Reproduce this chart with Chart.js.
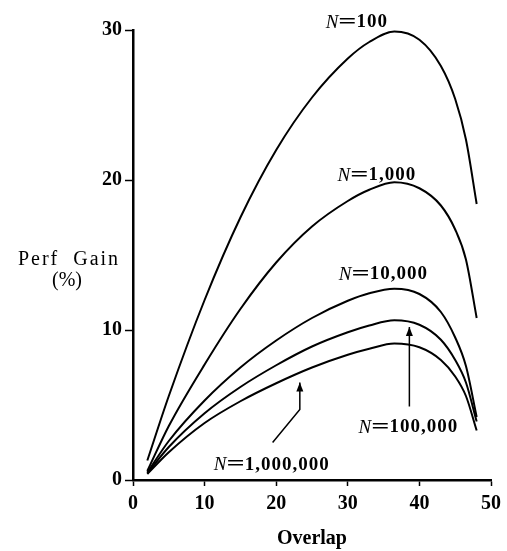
<!DOCTYPE html>
<html>
<head>
<meta charset="utf-8">
<script src="https://cdn.jsdelivr.net/npm/chart.js@4.4.0/dist/chart.umd.min.js"></script>
<style>
  html, body { margin: 0; padding: 0; background: #fff; }
  #wrap { width: 507px; height: 551px; position: relative; }
</style>
</head>
<body>
<div id="wrap"><canvas id="c" width="507" height="551"></canvas></div>
<script>
// ---- data ----
const overlap = [2, 5, 10, 15, 20, 25, 30, 33, 36.5, 40, 43, 45, 46.5, 48];
const gainN100     = [1.3, 5.6, 12.0, 17.5, 22.0, 25.5, 28.1, 29.2, 29.9, 29.35, 27.6, 25.4, 22.7, 18.4];
const gainN1000    = [0.6, 3.6, 7.7, 11.4, 14.5, 16.9, 18.6, 19.35, 19.85, 19.45, 18.3, 16.7, 14.7, 10.8];
const gainN10000   = [0.5, 2.6, 5.3, 7.5, 9.3, 10.8, 11.95, 12.45, 12.75, 12.4, 11.2, 9.5, 7.6, 4.2];
const gainN100000  = [0.45, 2.2, 4.45, 6.2, 7.65, 8.9, 9.85, 10.3, 10.65, 10.35, 9.35, 8.0, 6.5, 3.9];
const gainN1000000 = [0.4, 1.85, 3.8, 5.25, 6.45, 7.5, 8.35, 8.75, 9.1, 8.85, 8.0, 6.9, 5.6, 3.3];
const seriesNames = ["N=100", "N=1,000", "N=10,000", "N=100,000", "N=1,000,000"];
const xTicks = [0, 10, 20, 30, 40, 50];
const yTicks = [0, 10, 20, 30];

// curve labels: number part, and centre in data units
const labelNums = ["100", "1,000", "10,000", "100,000", "1,000,000"];
const labelX = [31.2, 34.0, 34.9, 38.4, 19.3];
const labelY = [30.5, 20.3, 13.7, 3.5, 1.0];
// arrows (data units): polylines ending with arrowhead
const arrow100000 = [[38.6, 4.9], [38.6, 10.2]];
const arrow1000000 = [[19.5, 2.5], [23.3, 4.7], [23.3, 6.5]];

const allGains = [gainN100, gainN1000, gainN10000, gainN100000, gainN1000000];
const datasets = allGains.map((g, i) => ({
  label: seriesNames[i],
  data: overlap.map((x, j) => ({ x: x, y: g[j] })),
  borderColor: '#000',
  borderWidth: 2,
  pointRadius: 0,
  fill: false,
  cubicInterpolationMode: 'monotone'
}));

const SERIF = '"Liberation Serif", "DejaVu Serif", serif';

const annot = {
  id: 'annot',
  afterDatasetsDraw(chart) {
    const ctx = chart.ctx, xs = chart.scales.x, ys = chart.scales.y;
    ctx.save();
    ctx.fillStyle = '#000';
    ctx.textBaseline = 'middle';
    // curve labels
    labelNums.forEach((num, i) => {
      const cx = xs.getPixelForValue(labelX[i]);
      const cy = ys.getPixelForValue(labelY[i]);
      const fN = 'italic 19px ' + SERIF;
      const fEq = 'bold 20px ' + SERIF;
      const fNum = 'bold 19px ' + SERIF;
      ctx.font = fN; const wN = ctx.measureText('N').width;
      ctx.font = fEq; const wEq = ctx.measureText('=').width * 1.6;
      ctx.font = fNum; const wNum = ctx.measureText(num).width + (num.length - 1) * 1;
      const total = wN + wEq + wNum;
      let x0 = cx - total / 2;
      ctx.textAlign = 'left';
      ctx.font = fN; ctx.fillText('N', x0, cy);
      x0 += wN;
      ctx.save();
      ctx.font = fEq;
      ctx.translate(x0, cy);
      ctx.scale(1.6, 1);
      ctx.fillText('=', 0, 0);
      ctx.restore();
      x0 += wEq;
      ctx.font = fNum;
      ctx.letterSpacing = '1px';
      ctx.fillText(num, x0, cy);
      ctx.letterSpacing = '0px';
    });
    // arrows
    ctx.strokeStyle = '#000';
    ctx.lineWidth = 1.5;
    [arrow100000, arrow1000000].forEach(pts => {
      const p = pts.map(q => [xs.getPixelForValue(q[0]), ys.getPixelForValue(q[1])]);
      ctx.beginPath();
      ctx.moveTo(p[0][0], p[0][1]);
      for (let k = 1; k < p.length; k++) ctx.lineTo(p[k][0], p[k][1]);
      ctx.stroke();
      const a = p[p.length - 1], b = p[p.length - 2];
      const ang = Math.atan2(a[1] - b[1], a[0] - b[0]);
      const L = 9, W = 3.5;
      ctx.beginPath();
      ctx.moveTo(a[0], a[1]);
      ctx.lineTo(a[0] - L * Math.cos(ang) + W * Math.sin(ang), a[1] - L * Math.sin(ang) - W * Math.cos(ang));
      ctx.lineTo(a[0] - L * Math.cos(ang) - W * Math.sin(ang), a[1] - L * Math.sin(ang) + W * Math.cos(ang));
      ctx.closePath();
      ctx.fill();
    });
    // y axis title (horizontal, two lines)
    const ty = ys.getPixelForValue(14.7);
    const tx = chart.chartArea.left - 64;
    ctx.textAlign = 'center';
    ctx.font = '20px ' + SERIF;
    ctx.letterSpacing = '2px';
    ctx.fillText('Perf  Gain', tx, ty);
    ctx.letterSpacing = '0px';
    ctx.fillText('(%)', tx - 2, ty + 21);
    ctx.restore();
  }
};

new Chart(document.getElementById('c'), {
  type: 'line',
  data: { datasets },
  options: {
    responsive: false,
    animation: false,
    devicePixelRatio: 1,
    layout: { padding: { left: 0, right: 11, top: 30, bottom: 0 } },
    plugins: { legend: { display: false }, tooltip: { enabled: false } },
    scales: {
      x: {
        type: 'linear',
        min: 0, max: 50,
        afterBuildTicks: s => { s.ticks = xTicks.map(v => ({ value: v })); },
        afterFit: s => { s.height = 71; },
        border: { color: '#000', width: 2.5 },
        grid: { drawOnChartArea: false, color: '#000', tickLength: 6, tickWidth: 1.5 },
        ticks: { color: '#000', padding: 6, maxRotation: 0, font: { family: SERIF, size: 20, weight: 'bold' } },
        title: { display: true, text: 'Overlap', color: '#000', font: { family: SERIF, size: 20, weight: 'bold' }, padding: 0 }
      },
      y: {
        type: 'linear',
        min: 0, max: 30,
        afterBuildTicks: s => { s.ticks = yTicks.map(v => ({ value: v })); },
        afterFit: s => { s.width = 133; },
        border: { color: '#000', width: 2.5 },
        grid: { drawOnChartArea: false, color: '#000', tickLength: 8, tickWidth: 1.5 },
        ticks: { color: '#000', padding: 3, font: { family: SERIF, size: 20, weight: 'bold' } }
      }
    }
  },
  plugins: [annot]
});
</script>
</body>
</html>
